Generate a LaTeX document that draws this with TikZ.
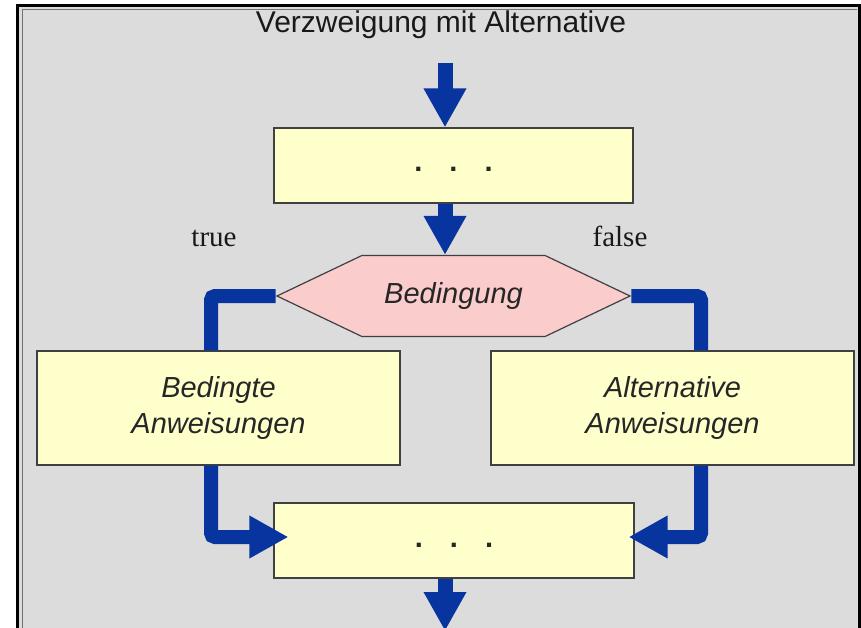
\documentclass[tikz,border=0pt]{standalone}
\usepackage{fontspec}
\setmainfont{Liberation Sans}
\newfontfamily\labelfont{Liberation Serif}
\usetikzlibrary{arrows.meta,shapes.symbols}
\definecolor{panelgray}{RGB}{220,220,220}
\definecolor{boxyellow}{RGB}{255,255,204}
\definecolor{condpink}{RGB}{250,204,204}
\definecolor{flowblue}{RGB}{8,52,160}
\newcommand\boxfont{\fontsize{29pt}{36pt}\selectfont}
\tikzstyle{box}=[draw=black!75,fill=boxyellow,line width=1.2pt,inner sep=0pt,
  align=center,font=\boxfont\itshape,text=black!85]
\tikzstyle{dots}=[box,font=\boxfont\bfseries,text height=13pt,text depth=0pt]
\tikzstyle{cond}=[draw=black!75,fill=condpink,line width=1.2pt,signal,
  signal to=west and east,signal pointer angle=51,inner sep=0pt,
  font=\boxfont\itshape,text=black!85]
\tikzstyle{flow}=[->,flowblue,line width=15pt]
\tikzstyle{branch}=[flowblue,line width=14pt,rounded corners=4pt]

\begin{document}
\begin{tikzpicture}[x=1pt,y=-1pt,>={Triangle[width=40pt,length=39pt]}]
  \useasboundingbox (0,0) rectangle (861,628);
  \fill[white] (0,0) rectangle (861,628);
  \fill[panelgray] (17,5) rectangle (861,628);
  \draw[black!55,line width=1pt] (22,628) -- (22,10) -- (857,10);
  \draw[black,line width=3pt] (17.5,628) -- (17.5,5.5) -- (859.5,5.5) -- (859.5,628);

  \node[anchor=base,font=\fontsize{30pt}{36pt}\selectfont,text=black!90]
    (title) at (441,33) {Verzweigung mit Alternative};
  \node[anchor=base,font=\labelfont\boxfont,text=black!90] (true) at (214,247) {true};
  \node[anchor=base,font=\labelfont\boxfont,text=black!90] (false) at (620,247) {false};

  \coordinate (start) at (445,63);
  \node[dots,minimum width=359pt,minimum height=75pt] (top) at (453.5,165.5)
    {.\hspace{27pt}.\hspace{27pt}.};
  \node[cond,minimum width=353pt,minimum height=81pt] (cond) at (453.5,296) {Bedingung};
  \node[box,minimum width=363pt,minimum height=114pt] (yes) at (218.5,408)
    {Bedingte\\Anweisungen};
  \node[box,minimum width=363pt,minimum height=114pt] (no) at (672.5,408)
    {Alternative\\Anweisungen};
  \node[dots,minimum width=360pt,minimum height=75pt] (join) at (454,540.5)
    {.\hspace{27pt}.\hspace{27pt}.};
  \coordinate (lx) at (211,0);
  \coordinate (rx) at (701,0);
  \coordinate (end) at (445,631);

  \draw[flow] (start) -- (start |- top.north);
  \draw[flow] (top.south -| start) -- (cond.north -| start);
  \draw[branch] (cond.west) -| (lx |- yes.north);
  \draw[branch] (cond.east) -| (rx |- no.north);
  \draw[branch,->] (lx |- yes.south) |- ([xshift=15pt,yshift=3.5pt]join.west);
  \draw[branch,->] (rx |- no.south) |- ([xshift=-6pt,yshift=3.5pt]join.east);
  \draw[flow] (join.south -| start) -- (end);
\end{tikzpicture}
\end{document}
